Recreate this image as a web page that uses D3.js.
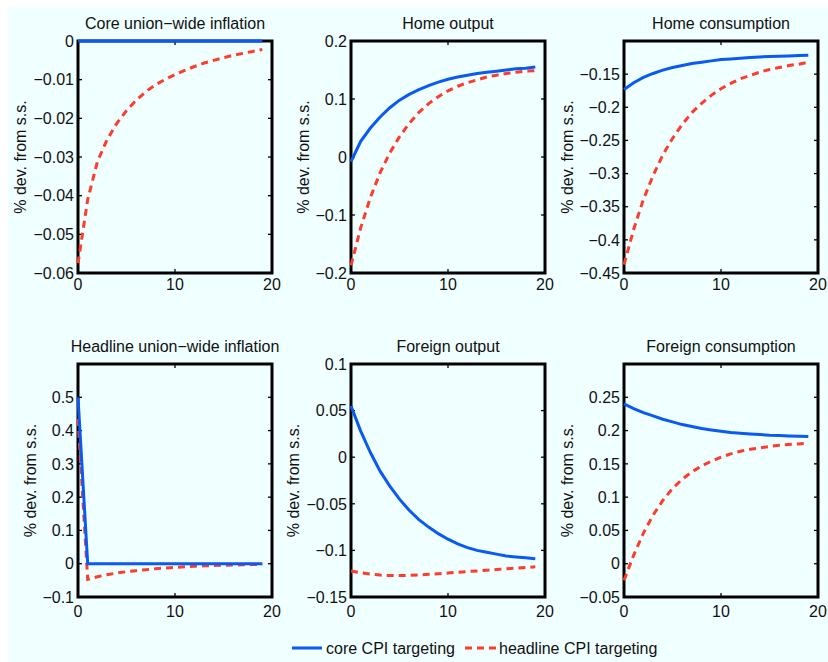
<!DOCTYPE html>
<html>
<head>
<meta charset="utf-8">
<script src="https://cdn.jsdelivr.net/npm/d3@7"></script>
<style>
  html, body { margin: 0; padding: 0; background: #ffffff; }
  svg { display: block; }
  text { font-family: "Liberation Sans", Arial, Helvetica, sans-serif; fill: #111; }
</style>
</head>
<body>
<svg id="chart" width="828" height="662"></svg>
<script>
// Impulse responses, periods 0..19, for the two policy regimes.
const periods = d3.range(0, 20);

const titles = [
  "Core union\u2212wide inflation", "Home output", "Home consumption",
  "Headline union\u2212wide inflation", "Foreign output", "Foreign consumption"
];

// core CPI targeting (solid blue)
const coreInflCore   = [0,0,0,0,0,0,0,0,0,0,0,0,0,0,0,0,0,0,0,0];
const homeOutCore    = [-0.008,0.027,0.050,0.069,0.085,0.098,0.108,0.116,0.123,0.129,0.134,0.138,0.141,0.144,0.146,0.148,0.150,0.152,0.153,0.155];
const homeConsCore   = [-0.173,-0.163,-0.155,-0.149,-0.144,-0.140,-0.137,-0.134,-0.132,-0.130,-0.128,-0.127,-0.126,-0.125,-0.124,-0.1235,-0.123,-0.1225,-0.122,-0.1215];
const headInflCore   = [0.5,0,0,0,0,0,0,0,0,0,0,0,0,0,0,0,0,0,0,0];
const forOutCore     = [0.055,0.028,0.005,-0.015,-0.031,-0.045,-0.057,-0.067,-0.075,-0.082,-0.088,-0.093,-0.097,-0.100,-0.102,-0.104,-0.106,-0.107,-0.108,-0.109];
const forConsCore    = [0.240,0.233,0.227,0.222,0.217,0.213,0.209,0.206,0.203,0.201,0.199,0.197,0.196,0.195,0.194,0.193,0.1925,0.192,0.1915,0.191];

// headline CPI targeting (dashed red)
const coreInflHead   = [-0.0575,-0.0410,-0.0312,-0.0255,-0.0213,-0.0180,-0.0153,-0.0131,-0.0113,-0.0099,-0.0087,-0.0076,-0.0066,-0.0057,-0.0050,-0.0043,-0.0037,-0.0032,-0.0027,-0.0022];
const homeOutHead    = [-0.187,-0.122,-0.070,-0.027,0.007,0.035,0.058,0.077,0.092,0.104,0.114,0.122,0.128,0.133,0.138,0.141,0.144,0.146,0.148,0.149];
const homeConsHead   = [-0.4375,-0.384,-0.339,-0.303,-0.272,-0.247,-0.226,-0.208,-0.194,-0.182,-0.172,-0.164,-0.157,-0.152,-0.147,-0.143,-0.140,-0.137,-0.135,-0.132];
const headInflHead   = [0.435,-0.047,-0.039,-0.033,-0.028,-0.024,-0.021,-0.018,-0.015,-0.013,-0.011,-0.009,-0.0075,-0.0063,-0.0053,-0.0045,-0.0038,-0.0032,-0.0027,-0.0023];
const forOutHead     = [-0.122,-0.124,-0.1255,-0.1265,-0.127,-0.127,-0.1268,-0.1263,-0.1257,-0.125,-0.1243,-0.1235,-0.1227,-0.122,-0.1212,-0.1205,-0.1197,-0.119,-0.1183,-0.1176];
const forConsHead    = [-0.025,0.013,0.046,0.073,0.095,0.113,0.127,0.138,0.147,0.154,0.160,0.165,0.169,0.172,0.174,0.176,0.178,0.179,0.180,0.181];

// axis limits and tick labels
const yDomains = [[-0.06, 0], [-0.2, 0.2], [-0.45, -0.1], [-0.1, 0.6], [-0.15, 0.1], [-0.05, 0.3]];
const yTicks = [
  [-0.06, -0.05, -0.04, -0.03, -0.02, -0.01, 0],
  [-0.2, -0.1, 0, 0.1, 0.2],
  [-0.45, -0.4, -0.35, -0.3, -0.25, -0.2, -0.15],
  [-0.1, 0, 0.1, 0.2, 0.3, 0.4, 0.5],
  [-0.15, -0.1, -0.05, 0, 0.05, 0.1],
  [-0.05, 0, 0.05, 0.1, 0.15, 0.2, 0.25]
];
const xDomain = [0, 20];
const xTicks = [0, 10, 20];

const coreSeries = [coreInflCore, homeOutCore, homeConsCore, headInflCore, forOutCore, forConsCore];
const headSeries = [coreInflHead, homeOutHead, homeConsHead, headInflHead, forOutHead, forConsHead];

const legendLabels = ["core CPI targeting", "headline CPI targeting"];

// layout
const colLeft = [78, 351, 624];
const panelW = 194;
const rowTop = [41, 364];
const rowBottom = [273, 597];
const yLabelOffset = [58, 48, 57, 48, 58, 57];
const xLabelOffset = [16.5, 20];
const FS = 16;

const BLUE = "#0a5af2";
const RED = "#ff3b2b";

const svg = d3.select("#chart");
svg.append("rect").attr("x", 8).attr("y", 7).attr("width", 820).attr("height", 655).attr("fill", "#f0ffff");

const fmt = v => {
  const s = String(+Math.abs(v).toFixed(4));
  return (v < 0 ? "\u2212" : "") + s;
};

titles.forEach((title, i) => {
  const r = Math.floor(i / 3), c = i % 3;
  const x0 = colLeft[c], x1 = x0 + panelW;
  const y0 = rowTop[r], y1 = rowBottom[r];

  const x = d3.scaleLinear().domain(xDomain).range([x0, x1]);
  const y = d3.scaleLinear().domain(yDomains[i]).range([y1, y0]);

  const g = svg.append("g");

  // inward ticks on all four sides
  const tickLen = 4;
  const tk = g.append("g").attr("stroke", "#000").attr("stroke-width", 1.3);
  yTicks[i].forEach(v => {
    tk.append("line").attr("x1", x0).attr("x2", x0 + tickLen).attr("y1", y(v)).attr("y2", y(v));
    tk.append("line").attr("x1", x1).attr("x2", x1 - tickLen).attr("y1", y(v)).attr("y2", y(v));
  });
  xTicks.forEach(v => {
    tk.append("line").attr("x1", x(v)).attr("x2", x(v)).attr("y1", y1).attr("y2", y1 - tickLen);
    tk.append("line").attr("x1", x(v)).attr("x2", x(v)).attr("y1", y0).attr("y2", y0 + tickLen);
  });

  // frame
  g.append("rect").attr("x", x0).attr("y", y0).attr("width", x1 - x0).attr("height", y1 - y0)
    .attr("fill", "none").attr("stroke", "#000").attr("stroke-width", 3);

  // y tick labels
  yTicks[i].forEach(v => {
    g.append("text").attr("x", x0 - 4).attr("y", y(v)).attr("dy", "0.36em")
      .attr("text-anchor", "end").attr("font-size", FS).text(fmt(v));
  });
  // x tick labels
  xTicks.forEach(v => {
    g.append("text").attr("x", x(v)).attr("y", y1 + xLabelOffset[r])
      .attr("text-anchor", "middle").attr("font-size", FS).text(fmt(v));
  });

  // title
  g.append("text").attr("x", (x0 + x1) / 2).attr("y", y0 - 12.5)
    .attr("text-anchor", "middle").attr("font-size", FS).text(title);

  // y label
  const ly = (y0 + y1) / 2, lx = x0 - yLabelOffset[i];
  g.append("text").attr("transform", `translate(${lx},${ly}) rotate(-90)`)
    .attr("dy", "0.35em").attr("text-anchor", "middle").attr("font-size", FS)
    .text("% dev. from s.s.");

  const line = d3.line().x((d, k) => x(periods[k])).y(d => y(d));

  g.append("path").datum(headSeries[i]).attr("d", line)
    .attr("fill", "none").attr("stroke", RED).attr("stroke-width", 3)
    .attr("stroke-dasharray", "7,5");
  g.append("path").datum(coreSeries[i]).attr("d", line)
    .attr("fill", "none").attr("stroke", BLUE).attr("stroke-width", 3);
});

// legend
const lg = svg.append("g");
const legY = 648;
lg.append("line").attr("x1", 292).attr("x2", 322).attr("y1", legY).attr("y2", legY)
  .attr("stroke", BLUE).attr("stroke-width", 3);
lg.append("text").attr("x", 326).attr("y", legY).attr("dy", "0.36em").attr("font-size", FS).text(legendLabels[0]);
lg.append("line").attr("x1", 465).attr("x2", 496).attr("y1", legY).attr("y2", legY)
  .attr("stroke", RED).attr("stroke-width", 3).attr("stroke-dasharray", "7,5");
lg.append("text").attr("x", 499).attr("y", legY).attr("dy", "0.36em").attr("font-size", FS).text(legendLabels[1]);
</script>
</body>
</html>
